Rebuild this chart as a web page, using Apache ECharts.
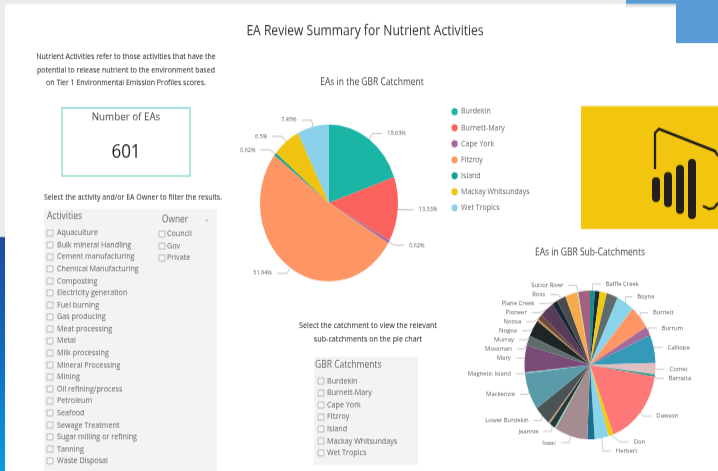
<!DOCTYPE html>
<html><head><meta charset="utf-8">
<style>html,body{margin:0;padding:0;background:#fff;width:718px;height:471px}#c{width:718px;height:415px;transform:scaleY(1.135);transform-origin:0 0;filter:blur(0.3px)}</style>
<script src="https://cdn.jsdelivr.net/npm/echarts@6/dist/echarts.min.js"></script></head>
<body><div id="c"></div>
<script>
const FONT = '"Open Sans","Noto Sans",sans-serif';
const SY = 1.135;
const catchments = ['Burdekin','Burnett-Mary','Cape York','Fitzroy','Island','Mackay Whitsundays','Wet Tropics'];
const catchmentShares = [19.63,13.33,0.62,51.94,0.62,6.5,7.45];
const catchmentColors = ['#1ab5a5','#fb625e','#a66999','#fd9664','#17a08f','#efc30f','#8ad0ea'];
const subNames = ['Baffle Creek','','','','Boyne','Burnett','Burrum','Calliope','Comet','Barratta','Dawson','Don','Herbert','','Isaac','','Jeannie','','Lower Burdekin','Mackenzie','Magnetic Island','Mary','Mossman','Murray','Nogoa','','Noosa','Pioneer','Plane Creek','Ross','','Suttor River',''];
const subValues = [1.2,1.2,1.8,2.8,4.4,5.2,2,6.2,2.5,0.5,16.8,1.2,3.5,1.8,8.2,0.3,1.5,0.4,4.2,8.1,0.3,5.9,2,0.2,3.7,0.4,1.2,3.6,1.3,2.3,3,0.3,2.9];
const subColors = ['#17908a','#1c2b3a','#f2c80f','#5f6b6d','#8ad4eb','#fe9666','#a66999','#3599b8','#dfbfbf','#1a9a8a','#fd7876','#f2c80f','#8ad4eb','#1c6e8c','#a58c90','#9fd8a8','#1f3a3d','#d98f70','#4a5355','#5b9aa8','#7fc0c0','#7a4a78','#5f6b6d','#444','#1e2526','#c98a50','#6b4a3a','#573b58','#142534','#4a4a4f','#f5ab4c','#b8d8a0','#a5607f'];
const activities = ['Aquaculture','Bulk mineral Handling','Cement manufacturing','Chemical Manufacturing','Composting','Electricity generation','Fuel burning','Gas producing','Meat processing','Metal','Milk processing','Mineral Processing','Mining','Oil refining/process','Petroleum','Seafood','Sewage Treatment','Sugar milling or refining','Tanning','Waste Disposal'];
const owners = ['Council','Gov','Private'];
const introLines = ['Nutrient Activities refer to those activities that have the','potential to release nutrient to the environment based','on Tier 1 Environmental Emission Profiles scores.'];
const eaCount = '601';

const Y=v=>v/SY;
function t(x,y,text,size,color,align,weight){return {type:'text',x,y:Y(y),style:{text,font:(weight||400)+' '+size+'px '+FONT,fill:color||'#333',textAlign:align||'left',textVerticalAlign:'middle'}};}
function r(x,y,w,h,fill,extra){return {type:'rect',shape:{x,y:Y(y),width:w,height:Y(h),r:(extra&&extra.r)||0},style:Object.assign({fill},extra&&extra.style||{})};}
function checklist(items,boxX,textX,y0,step,size){
  const out=[];
  items.forEach((s,i)=>{
    out.push(r(boxX,y0+i*step-3,6,6,'#f6f6f6',{style:{stroke:'#a9a9a9',lineWidth:0.7}}));
    out.push(t(textX,y0+i*step,s,size,'#666'));
  });
  return out;
}
const pts=a=>a.map(p=>[p[0],Y(p[1])]);
const logoBars=[[652,177,8,25],[664,172,8,35],[676,165,8,49],[688,159,8,60]];
const g=[
  r(0,0,626,4,'#e9e9e9'), r(626,4,50,3,'#e6e6e6'), r(0,0,5,237,'#ececec'),
  {type:'rect',shape:{x:0,y:Y(237),width:5,height:Y(234)},style:{fill:{type:'linear',x:0,y:0,x2:0,y2:1,colorStops:[{offset:0,color:'#1f4a9e'},{offset:.5,color:'#0f6cc0'},{offset:1,color:'#0a9ce2'}]}}},
  r(626,0,92,4,'#5b9bd5'), r(676,0,42,43,'#5b9bd5'),
  r(581,106,137,123,'#f2c50f'),
  ...logoBars.map(b=>r(b[0],b[1],b[2],b[3],'#231f1c',{r:4})),
  {type:'polyline',shape:{points:pts([[655,169],[655,133],[659,129],[715,151],[718,156]])},style:{stroke:'#231f1c',lineWidth:2.3,fill:null}},
  {type:'polyline',shape:{points:pts([[703,206],[709,209],[714,208],[718,203]])},style:{stroke:'#231f1c',lineWidth:2.3,fill:null}},
  t(365,31,'EA Review Summary for Nutrient Activities',12.1,'#333','center'),
  ...introLines.map((s,i)=>t(126,57+i*13,s,7,'#222','center')),
  {type:'rect',shape:{x:62,y:Y(108),width:128,height:Y(68)},style:{fill:'#fff',stroke:'#9fe0d6',lineWidth:1.6}},
  t(126,117,'Number of EAs',9.8,'#444','center'),
  t(126,152,eaCount,17,'#222','center',500),
  t(133,197,'Select the activity and/or EA Owner to filter the results.',7,'#222','center'),
  r(44,209,173,262,'#f3f3f3'),
  t(47,216,'Activities',8.5,'#666'),
  ...checklist(activities,47,57,233,12,7.2),
  t(162,220,'Owner',8.3,'#666'),
  t(207,219,'⌄',7,'#999','center'),
  ...checklist(owners,159,167,234,12,7.2),
  t(368,326,'Select the catchment to view the relevant',7.2,'#222','center'),
  t(368,339,'sub-catchments on the pie chart',7.2,'#222','center'),
  r(314,357,104,108,'#f3f3f3'),
  t(315,365,'GBR Catchments',8.5,'#666'),
  ...checklist(catchments,318,327,381,12,7.2)
];
const chart=echarts.init(document.getElementById('c'),null,{renderer:'canvas'});
const titleStyle={fontFamily:FONT,fontSize:8.5,fontWeight:400,color:'#444'};
chart.setOption({
  animation:false,
  backgroundColor:'#fff',
  title:[
    {text:'EAs in the GBR Catchment',left:372,top:Y(82),padding:0,textAlign:'center',textVerticalAlign:'middle',textStyle:titleStyle},
    {text:'EAs in GBR Sub-Catchments',left:590,top:Y(253),padding:0,textAlign:'center',textVerticalAlign:'middle',textStyle:titleStyle}
  ],
  legend:{data:catchments,orient:'vertical',left:451.5,top:Y(105.5),padding:0,itemWidth:7,itemHeight:6.2,itemGap:Y(16)-11,icon:'circle',textStyle:{fontFamily:FONT,fontSize:7,color:'#666',padding:[0,0,0,-2],lineHeight:11}},
  series:[
    {type:'pie',center:[329,Y(203)],radius:[0,69],startAngle:90,clockwise:true,z:2,
     data:catchments.map((n,i)=>({name:n,value:catchmentShares[i],itemStyle:{color:catchmentColors[i]}})),
     label:{formatter:p=>p.value+'%',fontFamily:FONT,fontSize:5.5,color:'#666'},
     labelLine:{length:6,length2:10,lineStyle:{color:'#999',width:0.6}},
     emphasis:{disabled:true}},
    {type:'pie',center:[590,Y(365)],radius:[0,65.5],startAngle:90,clockwise:true,z:2,
     avoidLabelOverlap:true,
     data:subNames.map((n,i)=>({name:n||('Other '+i),value:subValues[i],itemStyle:{color:subColors[i]},label:{show:!!n},labelLine:{show:!!n}})),
     label:{formatter:'{b}',fontFamily:FONT,fontSize:5.9,color:'#666'},
     labelLine:{length:6,length2:8,lineStyle:{color:'#aaa',width:0.6}},
     emphasis:{disabled:true}}
  ],
  graphic:{elements:g.map(e=>Object.assign({silent:true,z:-1},e))}
});
</script></body></html>
